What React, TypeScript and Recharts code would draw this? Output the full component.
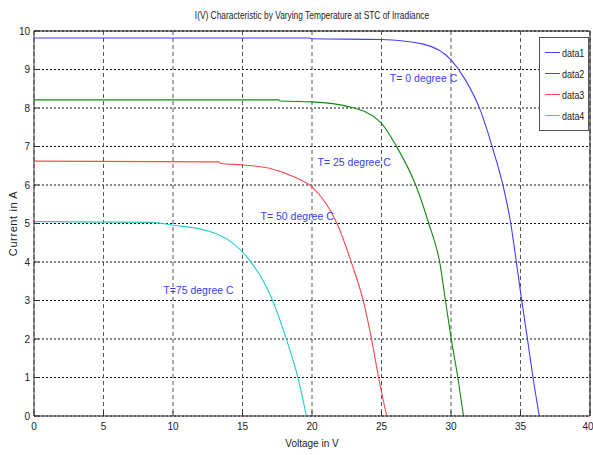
import React from "react";
import {
  LineChart,
  Line,
  XAxis,
  YAxis,
  CartesianGrid,
  ReferenceLine,
  ReferenceDot,
} from "recharts";

// I-V curves: [voltage V, current A]
const curveT0: number[][] = [
  [0, 9.82], [19.8, 9.82], [20, 9.8], [25, 9.78], [28, 9.66], [30, 9.25], [31, 8.75],
  [32.1, 7.95], [33, 6.95], [33.8, 5.9], [34.3, 5.0], [34.7, 4.0], [35.1, 2.97],
  [35.5, 2.0], [35.9, 1.0], [36.35, 0],
];
const curveT25: number[][] = [
  [0, 8.21], [17.6, 8.21], [17.7, 8.18], [20, 8.16], [22.7, 8.03], [24.9, 7.64],
  [26.1, 6.99], [27.5, 5.96], [28.4, 5.0], [29.2, 3.97], [29.6, 3.0], [30.05, 1.93],
  [30.5, 0.98], [30.9, 0],
];
const curveT50: number[][] = [
  [0, 6.62], [13.3, 6.6], [13.4, 6.56], [15.06, 6.52], [17, 6.43], [18.65, 6.22],
  [20, 5.95], [21.8, 5.0], [22.85, 3.97], [23.7, 2.97], [24.3, 1.97], [24.8, 0.98],
  [25.37, 0],
];
const curveT75: number[][] = [
  [0, 5.05], [8.5, 5.03], [9.9, 4.96], [12.66, 4.79], [14.3, 4.49], [15.5, 4.05],
  [17.1, 3.06], [18.18, 1.97], [19.0, 0.98], [19.6, 0],
];

const seriesNames = ["data1", "data2", "data3", "data4"];
const seriesColors = ["#3f3fff", "#118811", "#ff4a4a", "#22cccc"];
const xTicks = [0, 5, 10, 15, 20, 25, 30, 35, 40];
const yTicks = [0, 1, 2, 3, 4, 5, 6, 7, 8, 9, 10];

const notes = [
  { text: "T= 0 degree C", v: 25.6, i: 8.78 },
  { text: "T= 25 degree C", v: 20.4, i: 6.6 },
  { text: "T= 50 degree C", v: 16.3, i: 5.19 },
  { text: "T=75 degree C", v: 9.3, i: 3.27 },
];

const toRows = (pts: number[][]) => pts.map(([v, i]) => ({ v, i }));
const curves = [curveT0, curveT25, curveT50, curveT75].map(toRows);

const sans = "'Liberation Sans', Arial, sans-serif";

export default function App() {
  return (
    <div style={{ position: "absolute", left: 0, top: 0, width: 593, height: 455, background: "#fff" }}>
      <div
        style={{
          position: "absolute",
          left: 0,
          width: 624,
          top: 9,
          textAlign: "center",
          fontFamily: sans,
          fontSize: 11,
          color: "#222",
          transform: "scaleX(0.76)",
          transformOrigin: "312px 0",
          whiteSpace: "nowrap",
        }}
      >
        I(V) Characteristic by Varying Temperature at STC of Irradiance
      </div>
      <LineChart width={593} height={455} margin={{ top: 31, right: 3, bottom: 22, left: 0 }}>
        <CartesianGrid horizontal={true} vertical={false} stroke="#111" strokeDasharray="2 2" />
        <CartesianGrid horizontal={false} vertical={true} stroke="#555" strokeDasharray="4 3" />
        <XAxis
          type="number"
          dataKey="v"
          domain={[0, 40]}
          ticks={xTicks}
          allowDataOverflow
          height={17}
          tickSize={-5}
          tickMargin={12}
          stroke="#333"
          tick={{ fontFamily: sans, fontSize: 10, fill: "#222" }}
          label={{ value: "Voltage in V", position: "insideBottom", offset: -14, style: { fontFamily: sans, fontSize: 10, fill: "#222" } }}
        />
        <YAxis
          type="number"
          domain={[0, 10]}
          ticks={yTicks}
          width={34}
          tickSize={-5}
          tickMargin={9}
          stroke="#333"
          tick={{ fontFamily: sans, fontSize: 10, fill: "#222" }}
          label={{ value: "Current in A", angle: -90, position: "insideLeft", offset: 13, style: { fontFamily: sans, fontSize: 11, fill: "#222", textAnchor: "middle", letterSpacing: 0.6 } }}
        />
        <ReferenceLine y={10} stroke="#111" strokeWidth={1} />
        <ReferenceLine x={40} stroke="#111" strokeWidth={1} />
        {curves.map((rows, k) => (
          <Line
            key={seriesNames[k]}
            data={rows}
            dataKey="i"
            name={seriesNames[k]}
            type="monotone"
            stroke={seriesColors[k]}
            strokeWidth={1.1}
            dot={false}
            isAnimationActive={false}
          />
        ))}
        {notes.map((n) => (
          <ReferenceDot
            key={n.text}
            x={n.v}
            y={n.i}
            r={0}
            fill="none"
            stroke="none"
            label={{ value: n.text, position: "right", offset: 0, style: { fontFamily: sans, fontSize: 10.5, fill: "#3a3aff" } }}
          />
        ))}
      </LineChart>
      <div
        style={{
          position: "absolute",
          left: 539,
          top: 37,
          width: 50,
          border: "1px solid #555",
          background: "#fff",
          padding: "4px 0 4px 5px",
          fontFamily: sans,
          fontSize: 10.5,
          color: "#222",
          boxSizing: "border-box",
        }}
      >
        {seriesNames.map((n, k) => (
          <div key={n} style={{ display: "flex", alignItems: "center", height: 21, whiteSpace: "nowrap" }}>
            <span style={{ display: "inline-block", width: 19, height: 0, borderTop: `1.5px solid ${seriesColors[k]}`, marginRight: 2 }} />
            <span style={{ display: "inline-block", transform: "scaleX(0.85)", transformOrigin: "0 50%" }}>{n}</span>
          </div>
        ))}
      </div>
    </div>
  );
}
